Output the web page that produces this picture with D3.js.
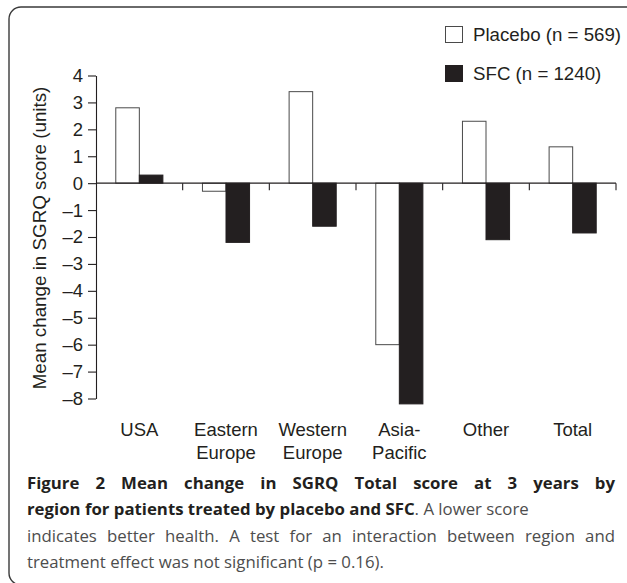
<!DOCTYPE html>
<html><head><meta charset="utf-8">
<script src="https://cdn.jsdelivr.net/npm/d3@7"></script>
<style>
html,body{margin:0;padding:0;background:#fff;}
svg{display:block;}
</style></head>
<body>
<svg id="chart" width="627" height="583"></svg>
<script>
const categories = ["USA","Eastern Europe","Western Europe","Asia-Pacific","Other","Total"];
const categoryLines = [["USA"],["Eastern","Europe"],["Western","Europe"],["Asia-","Pacific"],["Other"],["Total"]];
const seriesNames = ["Placebo (n = 569)","SFC (n = 1240)"];
const placeboValues = [2.8,-0.3,3.4,-6.0,2.3,1.35];
const sfcValues = [0.3,-2.2,-1.6,-8.2,-2.1,-1.85];
const yTicks = [4,3,2,1,0,-1,-2,-3,-4,-5,-6,-7,-8];
const yLabel = "Mean change in SGRQ score (units)";
const captionBold1 = "Figure 2 Mean change in SGRQ Total score at 3 years by";
const captionBold2 = "region for patients treated by placebo and SFC";
const captionRest2 = ". A lower score";
const captionLine3 = "indicates better health. A test for an interaction between region and";
const captionLine4 = "treatment effect was not significant (p = 0.16).";

const ink = "#231f20";
const font = "'Liberation Sans', Arial, Helvetica, sans-serif";
const capFont = "'Open Sans', 'Noto Sans', sans-serif";
const svg = d3.select("#chart");

// frame
svg.append("rect").attr("x",9).attr("y",7).attr("width",700).attr("height",578)
  .attr("rx",12).attr("fill","none").attr("stroke","#3a3a3a").attr("stroke-width",1.4);

const x = d3.scaleBand().domain(categories).range([96,616]).paddingInner(0).paddingOuter(0);
const xs = d3.scaleBand().domain(["p","s"]).range([0,x.bandwidth()]).paddingInner(0).paddingOuter(0.84);
const y = d3.scaleLinear().domain([-8,4]).range([398.5,75.5]);

const data = categories.map((c,i)=>({c, p:placeboValues[i], s:sfcValues[i]}));
const g = svg.append("g");
data.forEach(d=>{
  [["p",d.p],["s",d.s]].forEach(([k,v])=>{
    g.append("rect")
      .attr("x", x(d.c)+xs(k))
      .attr("width", xs.bandwidth())
      .attr("y", Math.min(y(0),y(v)))
      .attr("height", Math.abs(y(v)-y(0)))
      .attr("fill", k==="p" ? "#fff" : ink)
      .attr("stroke", k==="p" ? "#4a4a4a" : ink)
      .attr("stroke-width", 1);
  });
});

// y axis
const yAxis = d3.axisLeft(y).tickValues(yTicks).tickSize(8).tickSizeOuter(0).tickPadding(5)
  .tickFormat(d => d<0 ? "\u2013"+Math.abs(d) : String(d));
const ya = svg.append("g").attr("transform","translate(96,0)").call(yAxis);
ya.selectAll("path.domain").attr("stroke",ink).attr("stroke-width",1.1);
ya.selectAll("line").attr("stroke",ink).attr("stroke-width",1.1);
ya.selectAll("text").attr("fill",ink).attr("font-family",font).attr("font-size",18.5);

// x axis line and ticks at band boundaries
svg.append("line").attr("x1",x.range()[0]).attr("x2",x.range()[1]).attr("y1",y(0)).attr("y2",y(0))
  .attr("stroke",ink).attr("stroke-width",1.1);
categories.forEach(c=>{
  const bx = x(c)+x.bandwidth();
  svg.append("line").attr("x1",bx).attr("x2",bx).attr("y1",y(0)).attr("y2",y(0)+7)
    .attr("stroke",ink).attr("stroke-width",1.1);
});

// x labels
categoryLines.forEach((lines,i)=>{
  const cx = x(categories[i]) + x.bandwidth()/2;
  lines.forEach((t,j)=>{
    svg.append("text").attr("x",cx).attr("y",436+j*23).attr("text-anchor","middle")
      .attr("font-family",font).attr("font-size",18.5).attr("fill",ink).text(t);
  });
});

// y label
svg.append("text").attr("transform","translate(45.5,238) rotate(-90)").attr("text-anchor","middle")
  .attr("font-family",font).attr("font-size",18.8).attr("fill",ink).text(yLabel);

// legend
const legY = [26,65];
seriesNames.forEach((n,i)=>{
  svg.append("rect").attr("x",445.5).attr("y",legY[i]+0.5).attr("width",17).attr("height",16)
    .attr("fill", i===0 ? "#fff" : ink).attr("stroke", i===0 ? "#4a4a4a" : ink).attr("stroke-width",1);
  svg.append("text").attr("x",473).attr("y",legY[i]+14.5).attr("font-family",font).attr("font-size",18.7)
    .attr("fill",ink).text(n);
});

// caption
const capSize = 16.8;
const left = 27, right = 615;
function capText(yy){ return svg.append("text").attr("x",left).attr("y",yy).attr("font-family",capFont).attr("font-size",capSize); }
const l1 = capText(489).attr("font-weight","bold").attr("fill",ink).text(captionBold1);
let w1 = l1.node().getComputedTextLength();
const n1 = (captionBold1.match(/ /g)||[]).length;
l1.attr("word-spacing", ((right-left)-w1)/n1);
const l2 = capText(515);
l2.append("tspan").attr("font-weight","bold").attr("fill",ink).text(captionBold2);
l2.append("tspan").attr("fill","#4d4d4d").text(captionRest2);
const l3 = capText(542).attr("fill","#4d4d4d").text(captionLine3);
let w3 = l3.node().getComputedTextLength();
const n3 = (captionLine3.match(/ /g)||[]).length;
l3.attr("word-spacing", ((right-left)-w3)/n3);
capText(568).attr("fill","#4d4d4d").text(captionLine4);
</script>
</body></html>
